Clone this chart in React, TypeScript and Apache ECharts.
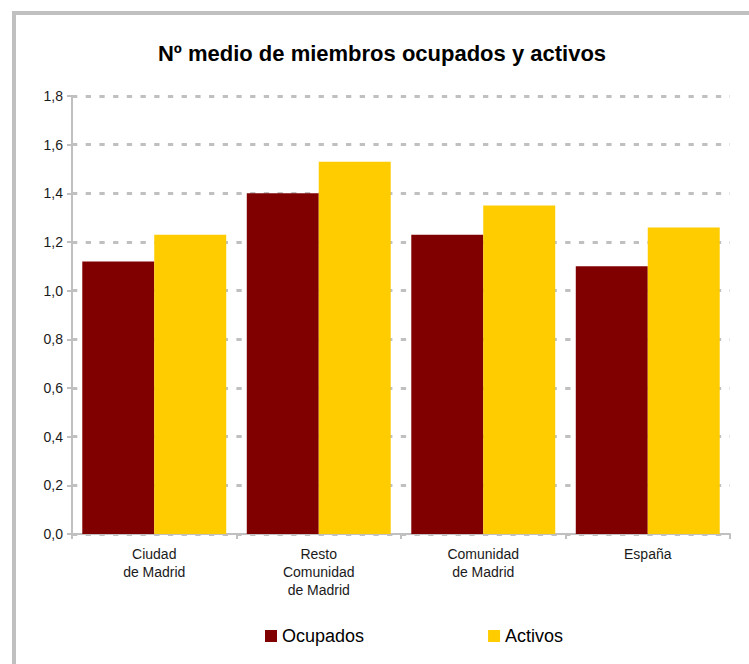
import React, { useEffect, useRef } from "react";
import * as echarts from "echarts";

const categories = ["Ciudad\nde Madrid", "Resto\nComunidad\nde Madrid", "Comunidad\nde Madrid", "España"];
const ocupados = [1.12, 1.4, 1.23, 1.1];
const activos = [1.23, 1.53, 1.35, 1.26];
const seriesNames = ["Ocupados", "Activos"];
const titleText = "Nº medio de miembros ocupados y activos";

const FONT = "'Liberation Sans', Arial, sans-serif";

export default function App() {
  const ref = useRef<HTMLDivElement>(null);
  useEffect(() => {
    if (!ref.current) return;
    const chart = echarts.init(ref.current, null, { renderer: "svg" });
    chart.setOption({
      animation: false,
      backgroundColor: "#ffffff",
      textStyle: { fontFamily: FONT },
      graphic: [
        {
          type: "rect",
          shape: { x: 14, y: 13, width: 900, height: 900 },
          style: { fill: "none", stroke: "#c0c0c0", lineWidth: 4 },
          silent: true,
          z: 0,
        },
        {
          type: "text",
          x: 382,
          y: 42,
          style: {
            text: titleText,
            fontFamily: FONT,
            fontSize: 22,
            fontWeight: "bold",
            fill: "#000000",
            textAlign: "center",
          },
        },
      ],
      legend: {
        left: 265,
        top: 627,
        padding: 0,
        itemWidth: 12,
        itemHeight: 12,
        itemGap: 124,
        icon: "rect",
        textStyle: { fontSize: 18, color: "#000000", fontFamily: FONT },
        data: seriesNames,
      },
      grid: { left: 72, right: 19, top: 96, bottom: 130 },
      xAxis: {
        type: "category",
        data: categories,
        axisLine: { lineStyle: { color: "#c0c0c0", width: 2 } },
        axisTick: { show: true, length: 5, lineStyle: { color: "#c0c0c0", width: 2 } },
        axisLabel: {
          fontSize: 14,
          lineHeight: 18,
          color: "#1a1a1a",
          margin: 11,
          interval: 0,
          fontFamily: FONT,
        },
      },
      yAxis: {
        type: "value",
        min: 0,
        max: 1.8,
        interval: 0.2,
        axisLine: { show: true, lineStyle: { color: "#c0c0c0", width: 2 } },
        axisTick: { show: true, length: 5, lineStyle: { color: "#c0c0c0", width: 2 } },
        axisLabel: {
          fontSize: 14,
          color: "#1a1a1a",
          margin: 9,
          fontFamily: FONT,
          formatter: (v: number) => v.toFixed(1).replace(".", ","),
        },
        splitLine: {
          show: true,
          lineStyle: { color: "#c0c0c0", width: 3, type: [5.3, 8.4] },
        },
      },
      series: [
        {
          name: seriesNames[0],
          type: "bar",
          data: ocupados,
          itemStyle: { color: "#800000" },
          barGap: "0%",
          barCategoryGap: "12.5%",
        },
        {
          name: seriesNames[1],
          type: "bar",
          data: activos,
          itemStyle: { color: "#ffcc00" },
          barGap: "0%",
          barCategoryGap: "12.5%",
        },
      ],
    });
    return () => chart.dispose();
  }, []);
  return (
    <div
      ref={ref}
      style={{ position: "absolute", left: 0, top: 0, width: 749, height: 664 }}
    />
  );
}
